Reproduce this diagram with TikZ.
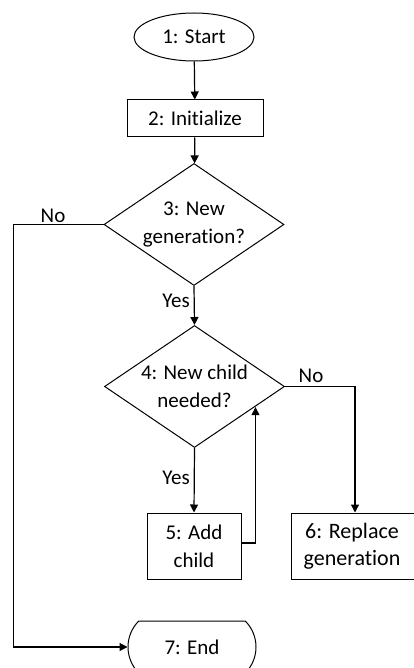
\documentclass[tikz,border=0pt]{standalone}
\usepackage{fontspec}
\setmainfont{Carlito}[Ligatures={NoCommon}]
\usetikzlibrary{shapes.geometric,shapes.misc,arrows.meta}
\begin{document}
\begin{tikzpicture}[x=1pt,y=-1pt,
  every node/.style={font=\fontsize{21}{28}\selectfont, align=center},
  box/.style={draw, line width=1pt, rectangle, inner sep=0pt},
  dec/.style={draw, line width=1pt, diamond, inner sep=0pt, aspect=1.46,
              minimum width=180pt, minimum height=122pt},
  term/.style={draw, line width=1pt, rounded rectangle, rounded rectangle arc length=90,
               inner sep=0pt, minimum width=128pt, minimum height=52pt},
  oval/.style={draw, line width=1pt, ellipse, inner sep=0pt,
               minimum width=120pt, minimum height=48pt},
  arr/.style={line width=1.2pt, -{Triangle[length=8pt,width=8pt]}},
  lbl/.style={inner sep=0pt}]
\useasboundingbox (0,0) rectangle (413,668);

% shapes
\node[oval] (n1) at (194,37) {1: Start};
\node[box, minimum width=136pt, minimum height=37pt] (n2) at (195,118.5) {2: Initialize};
\node[dec] (n3) at (194,224.5) {3: New\\generation?};
\node[dec] (n4) at (194.5,386.5) {4: New child\\needed?};
\node[box, minimum width=94pt, minimum height=66pt] (n5) at (194,546) {5: Add\\child};
\node[box, minimum width=128pt, minimum height=66pt,
      font=\fontsize{22}{27}\selectfont] (n6) at (355,546)
      {\hspace*{-6pt}6: Replace\\\hspace*{-6pt}generation};
\node[term] (n7) at (192,647) {7: End};

% connectors
\draw[arr] (n1) -- (n2);
\draw[arr] (n2) -- (n3);
\draw[arr] (n3.south) -- (n4.north);
\draw[arr] (n4.south) -- (n5.north);
\draw[arr] (n4.east) -| (n6.north);
\draw[arr] (n3.west) -- ++(-90,0) |- (n7.west);
\draw[arr] (n5.east) ++(0,-3) coordinate (r5a) -- ++(14,0) coordinate (r5b)
  -- (r5b |- n4.-19.4);

% branch labels
\node[lbl] (y3) at (176,301) {Yes};
\node[lbl] (y4) at (176,478) {Yes};
\node[lbl] (no3) at (53,216) {No};
\node[lbl] (no4) at (311,376) {No};
\end{tikzpicture}
\end{document}
